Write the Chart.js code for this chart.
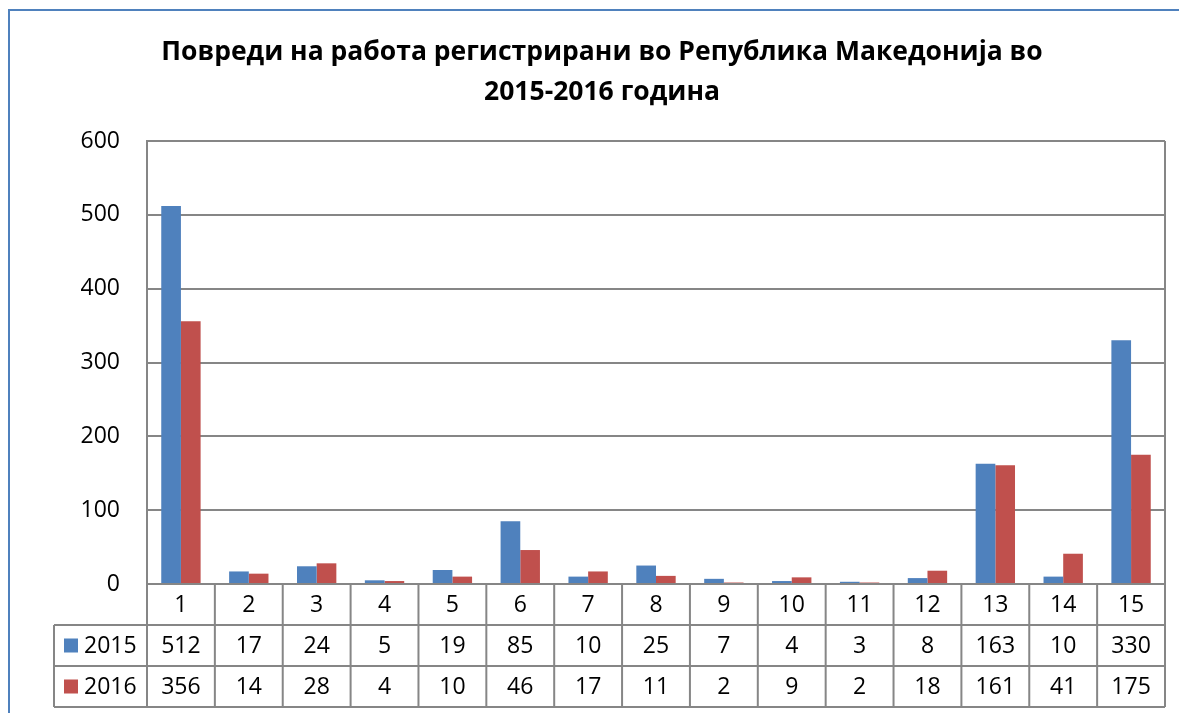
<!DOCTYPE html>
<html><head><meta charset="utf-8">
<script src="https://cdn.jsdelivr.net/npm/chart.js@4/dist/chart.umd.min.js"></script>
<style>html,body{margin:0;padding:0;background:#fff;}#wrap{width:1179px;height:713px;position:relative;}</style>
</head><body><div id="wrap"><canvas id="c" width="1179" height="713"></canvas></div>
<script>
const titleLines = ['Повреди на работа регистрирани во Република Македонија во', '2015-2016 година'];
const categories = ['1','2','3','4','5','6','7','8','9','10','11','12','13','14','15'];
const seriesNames = ['2015','2016'];
const values2015 = [512,17,24,5,19,85,10,25,7,4,3,8,163,10,330];
const values2016 = [356,14,28,4,10,46,17,11,2,9,2,18,161,41,175];
const yTicks = [0,100,200,300,400,500,600];
const colors = ['#4F81BD','#C0504D'];

const FONT = '"Open Sans", "Liberation Sans", sans-serif';
const GRID = '#868686';

const framePlugin = {
  id: 'frame',
  beforeDraw(chart) {
    const ctx = chart.ctx;
    ctx.save();
    ctx.fillStyle = '#fff';
    ctx.fillRect(0,0,chart.width,chart.height);
    ctx.strokeStyle = '#4F81BD';
    ctx.lineWidth = 2;
    ctx.strokeRect(9, 10, chart.width + 20, chart.height + 20);
    ctx.restore();
  }
};

const tablePlugin = {
  id: 'datatable',
  afterDraw(chart) {
    const ctx = chart.ctx, a = chart.chartArea, xs = chart.scales.x;
    const n = categories.length;
    const cw = (a.right - a.left) / n;
    const rowH = 41;
    const legendLeft = 54;
    const y0 = a.bottom;
    ctx.save();
    ctx.strokeStyle = GRID;
    ctx.lineWidth = 2;
    ctx.beginPath();
    ctx.moveTo(a.right, a.top); ctx.lineTo(a.right, y0 + 3*rowH);
    ctx.moveTo(a.left, y0); ctx.lineTo(a.right, y0);
    for (let r = 1; r <= 3; r++) {
      ctx.moveTo(legendLeft, y0 + r*rowH); ctx.lineTo(a.right, y0 + r*rowH);
    }
    for (let i = 0; i <= n; i++) {
      const x = a.left + i*cw;
      ctx.moveTo(x, y0); ctx.lineTo(x, y0 + 3*rowH);
    }
    ctx.moveTo(legendLeft, y0 + rowH); ctx.lineTo(legendLeft, y0 + 3*rowH);
    ctx.moveTo(a.left, a.top); ctx.lineTo(a.left, y0 + 3*rowH);
    ctx.stroke();
    ctx.fillStyle = '#000';
    ctx.font = '23px ' + FONT;
    ctx.textAlign = 'center';
    ctx.textBaseline = 'middle';
    const rows = [categories, values2015, values2016];
    for (let i = 0; i < n; i++) {
      const cx = xs.getPixelForValue(i);
      rows.forEach((row, r) => {
        ctx.fillText(String(row[i]), cx, y0 + r*rowH + rowH/2 + 1);
      });
    }
    ctx.textAlign = 'left';
    seriesNames.forEach((s, k) => {
      const cy = y0 + (k+1)*rowH + rowH/2;
      ctx.fillStyle = colors[k];
      ctx.fillRect(64, cy - 7, 14, 14);
      ctx.fillStyle = '#000';
      ctx.fillText(s, 84, cy + 1);
    });
    ctx.restore();
  }
};

new Chart(document.getElementById('c'), {
  type: 'bar',
  data: {
    labels: categories,
    datasets: [
      { label: seriesNames[0], data: values2015, backgroundColor: colors[0] },
      { label: seriesNames[1], data: values2016, backgroundColor: colors[1] }
    ]
  },
  options: {
    responsive: false,
    animation: false,
    devicePixelRatio: 1,
    layout: { padding: { left: 39, right: 14, top: 0, bottom: 129 } },
    datasets: { bar: { categoryPercentage: 0.58, barPercentage: 1.0 } },
    plugins: {
      legend: { display: false },
      tooltip: { enabled: false },
      title: {
        display: true,
        text: titleLines,
        color: '#000',
        font: { family: FONT, size: 26.5, weight: 'bold', lineHeight: 1.51 },
        padding: { top: 32, bottom: 29 }
      }
    },
    scales: {
      x: { display: false, offset: true },
      y: {
        min: 0, max: 600,
        afterFit(s) { s.width = 108; },
        afterBuildTicks(s) { s.ticks = yTicks.map(v => ({ value: v })); },
        border: { display: true, color: GRID, width: 2 },
        grid: { color: GRID, lineWidth: 2, drawTicks: false },
        ticks: { color: '#000', padding: 27, font: { family: FONT, size: 23 } }
      }
    }
  },
  plugins: [framePlugin, tablePlugin]
});
</script></body></html>
